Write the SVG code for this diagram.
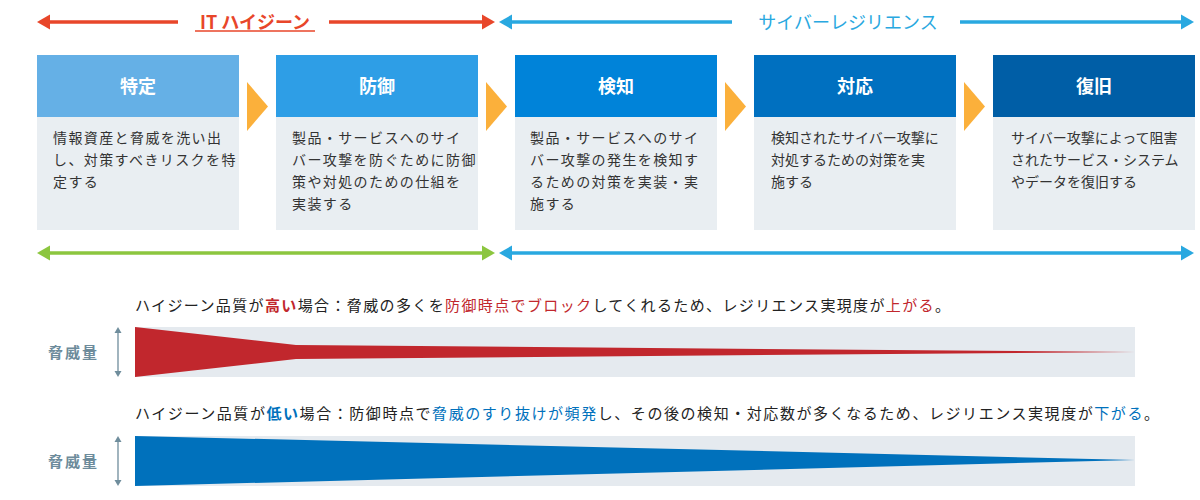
<svg xmlns="http://www.w3.org/2000/svg" width="1200" height="500" viewBox="0 0 1200 500">
<style>
text{font-family:"Noto Sans CJK JP","Noto Sans",sans-serif;}
.hd{fill:#fff;font-size:18px;font-weight:bold;text-anchor:middle;}
.bd{fill:#333;font-size:14px;}
.sp{letter-spacing:1.4px;}
.body{fill:#e9eef2;}
.tri{fill:#fbb03b;}
.gray{fill:#e5eaef;}
.lbl{fill:#6d8b9b;font-size:15px;font-weight:bold;letter-spacing:2px;}
.cap{fill:#222;font-size:15px;}
.r{fill:#c1272d;}
.b{fill:#0071bc;}
.vt{stroke:#6f8d9c;stroke-width:1.3;}
.vh{fill:#6f8d9c;}
</style>

<g id="ranges">
  <g id="range-it-hygiene">
    <polygon points="37,22 50,14.5 50,29.5" fill="#e8462a"/>
    <line x1="49" y1="22" x2="178" y2="22" stroke="#e8462a" stroke-width="3.5"/>
    <line x1="329" y1="22" x2="483" y2="22" stroke="#e8462a" stroke-width="3.5"/>
    <polygon points="495,22 482,14.5 482,29.5" fill="#e8462a"/>
    <text x="255" y="29" font-size="18" font-weight="bold" fill="#e8462a" text-anchor="middle">IT ハイジーン</text>
    <line x1="195" y1="31" x2="315" y2="31" stroke="#e8462a" stroke-width="1.3"/>
  </g>
  <g id="range-cyber-resilience">
    <polygon points="499,22 512,14.5 512,29.5" fill="#29a8e0"/>
    <line x1="511" y1="22" x2="732" y2="22" stroke="#29a8e0" stroke-width="3.5"/>
    <line x1="960" y1="22" x2="1182" y2="22" stroke="#29a8e0" stroke-width="3.5"/>
    <polygon points="1194,22 1181,14.5 1181,29.5" fill="#29a8e0"/>
    <text x="848" y="29" font-size="18" fill="#29a8e0" text-anchor="middle">サイバーレジリエンス</text>
  </g>
  <g id="range-green">
    <polygon points="37,253 50,245.5 50,260.5" fill="#8cc63f"/>
    <line x1="49" y1="253" x2="483" y2="253" stroke="#8cc63f" stroke-width="3.5"/>
    <polygon points="495,253 482,245.5 482,260.5" fill="#8cc63f"/>
  </g>
  <g id="range-blue">
    <polygon points="499,253 512,245.5 512,260.5" fill="#29a8e0"/>
    <line x1="511" y1="253" x2="1182" y2="253" stroke="#29a8e0" stroke-width="3.5"/>
    <polygon points="1194,253 1181,245.5 1181,260.5" fill="#29a8e0"/>
  </g>
</g>

<g id="connectors">
  <polygon class="tri" points="247,82 268,106.5 247,131"/>
  <polygon class="tri" points="486,82 507,106.5 486,131"/>
  <polygon class="tri" points="725,82 746,106.5 725,131"/>
  <polygon class="tri" points="964,82 985,106.5 964,131"/>
</g>

<g id="node-identify">
  <rect x="37" y="55" width="202" height="62" fill="#65b0e6"/>
  <rect class="body" x="37" y="117" width="202" height="113"/>
  <text class="hd" x="138" y="93">特定</text>
  <text class="bd sp" x="53" y="143">情報資産と脅威を洗い出</text>
  <text class="bd sp" x="53" y="165">し、対策すべきリスクを特</text>
  <text class="bd sp" x="53" y="187">定する</text>
</g>

<g id="node-protect">
  <rect x="276" y="55" width="202" height="62" fill="#2e9ee6"/>
  <rect class="body" x="276" y="117" width="202" height="113"/>
  <text class="hd" x="377" y="93">防御</text>
  <text class="bd sp" x="292" y="143">製品・サービスへのサイ</text>
  <text class="bd sp" x="292" y="165">バー攻撃を防ぐために防御</text>
  <text class="bd sp" x="292" y="187">策や対処のための仕組を</text>
  <text class="bd sp" x="292" y="209">実装する</text>
</g>

<g id="node-detect">
  <rect x="515" y="55" width="202" height="62" fill="#0083d9"/>
  <rect class="body" x="515" y="117" width="202" height="113"/>
  <text class="hd" x="616" y="93">検知</text>
  <text class="bd sp" x="530" y="143">製品・サービスへのサイ</text>
  <text class="bd sp" x="530" y="165">バー攻撃の発生を検知す</text>
  <text class="bd sp" x="530" y="187">るための対策を実装・実</text>
  <text class="bd sp" x="530" y="209">施する</text>
</g>

<g id="node-respond">
  <rect x="754" y="55" width="202" height="62" fill="#0070c0"/>
  <rect class="body" x="754" y="117" width="202" height="113"/>
  <text class="hd" x="855" y="93">対応</text>
  <text class="bd" x="771" y="143">検知されたサイバー攻撃に</text>
  <text class="bd" x="771" y="165">対処するための対策を実</text>
  <text class="bd" x="771" y="187">施する</text>
</g>

<g id="node-recover">
  <rect x="993" y="55" width="202" height="62" fill="#005ea6"/>
  <rect class="body" x="993" y="117" width="202" height="113"/>
  <text class="hd" x="1094" y="93">復旧</text>
  <text class="bd" x="1011" y="143">サイバー攻撃によって阻害</text>
  <text class="bd" x="1011" y="165">されたサービス・システム</text>
  <text class="bd" x="1011" y="187">やデータを復旧する</text>
</g>

<g id="high-quality">
  <text class="cap" x="135" y="311" textLength="815" lengthAdjust="spacing">ハイジーン品質が<tspan class="r" font-weight="bold">高い</tspan>場合：脅威の多くを<tspan class="r">防御時点でブロック</tspan>してくれるため、レジリエンス実現度が<tspan class="r">上がる</tspan>。</text>
  <text class="lbl" x="48" y="358">脅威量</text>
  <line class="vt" x1="118" y1="331" x2="118" y2="373"/>
  <polygon class="vh" points="118,327 114.5,333 121.5,333"/>
  <polygon class="vh" points="118,377 114.5,371 121.5,371"/>
  <rect class="gray" x="135" y="327" width="1000" height="50"/>
  <polygon class="r" points="135,327 296,345 1135,352 296,359 135,377"/>
</g>

<g id="low-quality">
  <text class="cap" x="135" y="419" textLength="1024" lengthAdjust="spacing">ハイジーン品質が<tspan class="b" font-weight="bold">低い</tspan>場合：防御時点で<tspan class="b">脅威のすり抜けが頻発</tspan>し、その後の検知・対応数が多くなるため、レジリエンス実現度が<tspan class="b">下がる</tspan>。</text>
  <text class="lbl" x="48" y="467">脅威量</text>
  <line class="vt" x1="118" y1="440" x2="118" y2="482"/>
  <polygon class="vh" points="118,436 114.5,442 121.5,442"/>
  <polygon class="vh" points="118,486 114.5,480 121.5,480"/>
  <rect class="gray" x="135" y="436" width="1000" height="50"/>
  <polygon class="b" points="135,436 1135,460 135,486"/>
</g>
</svg>
